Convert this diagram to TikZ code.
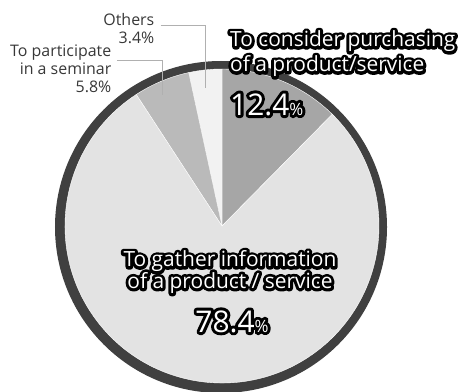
\documentclass[tikz,border=0pt]{standalone}
\usepackage{fontspec}
\setmainfont{Open Sans}
\usepackage{tikz}
\definecolor{ringgray}{HTML}{404040}
\definecolor{considergray}{HTML}{A6A6A6}
\definecolor{othersgray}{HTML}{F2F2F2}
\definecolor{partgray}{HTML}{BABABA}
\definecolor{gathergray}{HTML}{E3E3E3}
\definecolor{leadergray}{HTML}{B0B0B0}
\definecolor{labelgray}{HTML}{383838}
% white text with a black rim: stroked copy first, plain copy on top
\newcommand{\halo}[1]{\leavevmode\rlap{\special{pdf:literal direct 0 0 0 RG 6 w 1 J 1 j 2 Tr}#1\special{pdf:literal direct 0 Tr}}#1}
\newcommand{\bignum}[1]{\halo{\fontsize{30}{30}\selectfont#1{\fontsize{17}{17}\selectfont\%}}}

\begin{document}
\begin{tikzpicture}[x=1bp,y=1bp,
    slice/.style={draw=white, line width=0.4pt},
    leader/.style={draw=leadergray, line width=0.9pt},
    smalllbl/.style={text=labelgray, align=right, inner sep=0pt, font=\fontsize{16}{17.7}\selectfont},
    biglbl/.style={text=white, inner sep=0pt, font=\fontsize{21}{24}\selectfont}]
    \useasboundingbox (0,0) rectangle (466,391);
    \coordinate (o) at (222,165);
    \fill[ringgray] (221,164) circle (166bp);
    \filldraw[slice, fill=considergray] (o) -- ++(45.36:157bp) arc (45.36:90:157bp) -- cycle;
    \filldraw[slice, fill=othersgray] (o) -- ++(90:157bp) arc (90:102.24:157bp) -- cycle;
    \filldraw[slice, fill=partgray] (o) -- ++(102.24:157bp) arc (102.24:123.12:157bp) -- cycle;
    \filldraw[slice, fill=gathergray] (o) -- ++(123.12:157bp) arc (123.12:405.36:157bp) -- cycle;
    \node[smalllbl, anchor=north east] (othersLbl) at (154.5,377.5) {Others\\3.4\%};
    \node[smalllbl, anchor=north east] (partLbl) at (111.5,346) {To participate\\in a seminar\\5.8\%};
    \coordinate (othersTip) at (205,303);
    \coordinate (partTip) at (162,296);
    \draw[leader] (othersLbl.north east) ++(6,-11.5) -| (othersTip);
    \draw[leader] (partLbl.north east) ++(5.5,-15) -| (partTip);
    \node[biglbl, anchor=base west] (consider1) at (230,344.3) {\halo{To consider purchasing}};
    \node[biglbl, anchor=base west] (consider2) at (230,319.3) {\halo{of a product/service}};
    \node[biglbl, anchor=base west] (considerPct) at (230,276) {\bignum{12.4}};
    \node[biglbl, anchor=base] (gather1) at (230,124.3) {\halo{To gather information}};
    \node[biglbl, anchor=base] (gather2) at (230,102.7) {\halo{of a product / service}};
    \node[biglbl, anchor=base] (gatherPct) at (232,59) {\bignum{78.4}};
\end{tikzpicture}
\end{document}
